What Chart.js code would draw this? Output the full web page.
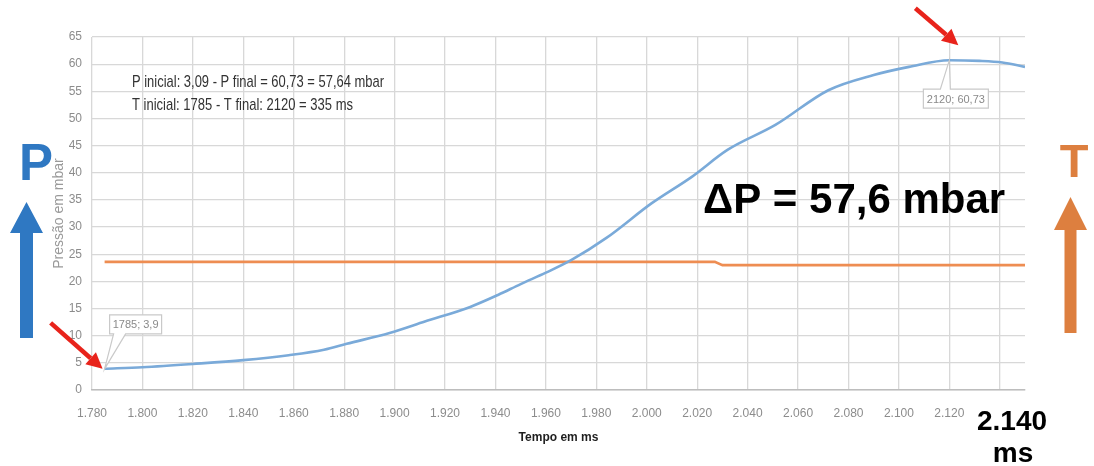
<!DOCTYPE html>
<html>
<head>
<meta charset="utf-8">
<script src="https://cdn.jsdelivr.net/npm/chart.js@4.4.1/dist/chart.umd.min.js"></script>
<style>
  html, body { margin: 0; padding: 0; background: #ffffff; }
  #wrap { width: 1094px; height: 466px; position: relative; }
</style>
</head>
<body>
<div id="wrap"><canvas id="grafico" width="1094" height="466"></canvas></div>
<script>
// Pressure curve (mbar) against time (ms)
const tempoPressao = [1785, 1800, 1820, 1840, 1858, 1872, 1881, 1898, 1912, 1930, 1941, 1950, 1960, 1970, 1984, 2002, 2018, 2032, 2051, 2072, 2090, 2104, 2120, 2132, 2141, 2150];
const pressao      = [3.9, 4.2, 4.8, 5.5, 6.4, 7.4, 8.5, 10.5, 12.6, 15.3, 17.5, 19.5, 21.6, 23.9, 28.0, 34.4, 39.3, 44.2, 48.8, 55.2, 58.0, 59.5, 60.73, 60.6, 60.3, 59.5];

// Temperature trace on the same axes
const tempoTemperatura = [1785, 2027, 2030, 2150];
const temperatura      = [23.6, 23.6, 23.0, 23.0];

// Axis ranges and ticks
const eixoX = { min: 1780, max: 2150, passo: 20 };
const eixoY = { min: 0, max: 65, passo: 5 };

// Labelled points
const pontoInicial = { t: 1785, p: 3.9 };
const pontoFinal   = { t: 2120, p: 60.73 };

// Text
const resumo = [
  'P inicial: 3,09 - P final = 60,73 = 57,64 mbar',
  'T inicial: 1785 - T final: 2120 = 335 ms'
];
const deltaTexto = '\u0394P = 57,6 mbar';
const tempoFinalTexto = ['2.140', 'ms'];
const tituloX = 'Tempo em ms';
const tituloY = 'Press\u00e3o em mbar';

const FONTE = '"Liberation Sans", Arial, sans-serif';

function fmtMilhar(v) {
  return Math.round(v).toString().replace(/\B(?=(\d{3})+(?!\d))/g, '.');
}
function fmtDecimal(v) {
  return String(v).replace('.', ',');
}

function seta(ctx, x0, y0, x1, y1, cor, largura, cab, abertura) {
  const ang = Math.atan2(y1 - y0, x1 - x0);
  const bx = x1 - Math.cos(ang) * cab, by = y1 - Math.sin(ang) * cab;
  ctx.save();
  ctx.strokeStyle = cor; ctx.fillStyle = cor; ctx.lineWidth = largura; ctx.lineCap = 'butt';
  ctx.beginPath(); ctx.moveTo(x0, y0); ctx.lineTo(bx, by); ctx.stroke();
  ctx.beginPath();
  ctx.moveTo(x1, y1);
  ctx.lineTo(bx + Math.sin(ang) * abertura, by - Math.cos(ang) * abertura);
  ctx.lineTo(bx - Math.sin(ang) * abertura, by + Math.cos(ang) * abertura);
  ctx.closePath(); ctx.fill();
  ctx.restore();
}

function setaBloco(ctx, cx, topo, baseCab, fundo, meiaHaste, meiaCab, cor) {
  ctx.save();
  ctx.fillStyle = cor;
  ctx.beginPath();
  ctx.moveTo(cx, topo);
  ctx.lineTo(cx + meiaCab, baseCab);
  ctx.lineTo(cx + meiaHaste, baseCab);
  ctx.lineTo(cx + meiaHaste, fundo);
  ctx.lineTo(cx - meiaHaste, fundo);
  ctx.lineTo(cx - meiaHaste, baseCab);
  ctx.lineTo(cx - meiaCab, baseCab);
  ctx.closePath();
  ctx.fill();
  ctx.restore();
}

// Callout box with a wedge pointing to a data point
function balao(ctx, texto, px, py, bx, by, bw, bh, lado, w0, w1) {
  ctx.save();
  ctx.beginPath();
  if (lado === 'baixo') {
    ctx.moveTo(bx, by); ctx.lineTo(bx + bw, by); ctx.lineTo(bx + bw, by + bh);
    ctx.lineTo(bx + w1, by + bh); ctx.lineTo(px, py); ctx.lineTo(bx + w0, by + bh);
    ctx.lineTo(bx, by + bh); ctx.closePath();
  } else {
    ctx.moveTo(bx, by); ctx.lineTo(bx + w0, by); ctx.lineTo(px, py); ctx.lineTo(bx + w1, by);
    ctx.lineTo(bx + bw, by); ctx.lineTo(bx + bw, by + bh); ctx.lineTo(bx, by + bh); ctx.closePath();
  }
  ctx.fillStyle = '#ffffff'; ctx.fill();
  ctx.strokeStyle = '#c9c9c9'; ctx.lineWidth = 1.2; ctx.stroke();
  ctx.fillStyle = '#8a8a8a';
  ctx.font = '11px ' + FONTE;
  ctx.textAlign = 'center'; ctx.textBaseline = 'middle';
  ctx.fillText(texto, bx + bw / 2, by + bh / 2 + 1, bw - 6);
  ctx.restore();
}

const anotacoes = {
  id: 'anotacoes',
  afterDatasetsDraw(chart) {
    const ctx = chart.ctx;
    const sx = chart.scales.x, sy = chart.scales.y;

    // summary text box
    ctx.save();
    ctx.fillStyle = '#333333';
    ctx.font = '17px ' + FONTE;
    ctx.textAlign = 'left'; ctx.textBaseline = 'alphabetic';
    ctx.fillText(resumo[0], 132, 87, 252);
    ctx.fillText(resumo[1], 132, 110, 221);
    ctx.restore();

    // value callouts
    const p1x = sx.getPixelForValue(pontoInicial.t), p1y = sy.getPixelForValue(pontoInicial.p);
    balao(ctx, String(pontoInicial.t) + '; ' + fmtDecimal(pontoInicial.p),
          p1x, p1y, p1x + 5, p1y - 54, 52, 19, 'baixo', 4, 16);
    const p2x = sx.getPixelForValue(pontoFinal.t), p2y = sy.getPixelForValue(pontoFinal.p);
    balao(ctx, String(pontoFinal.t) + '; ' + fmtDecimal(pontoFinal.p),
          p2x, p2y, p2x - 26, p2y + 29, 65, 19, 'cima', 17, 27);

    // red pointer arrows
    seta(ctx, p1x - 54, p1y - 46, p1x - 2, p1y, '#e8231b', 4.5, 16, 8);
    seta(ctx, p2x - 34, p2y - 52, p2x + 9, p2y - 15, '#e8231b', 4.5, 16, 8);

    // delta text
    ctx.save();
    ctx.fillStyle = '#000000';
    ctx.font = 'bold 42px ' + FONTE;
    ctx.textAlign = 'left'; ctx.textBaseline = 'alphabetic';
    ctx.fillText(deltaTexto, 703, 213);

    // final time label
    ctx.font = 'bold 28px ' + FONTE;
    ctx.textAlign = 'center';
    ctx.fillText(tempoFinalTexto[0], 1012, 430);
    ctx.fillText(tempoFinalTexto[1], 1013, 462);

    // P marker and arrow
    ctx.fillStyle = '#2f78c2';
    ctx.font = 'bold 51px ' + FONTE;
    ctx.textAlign = 'center';
    ctx.fillText('P', 36, 180);
    setaBloco(ctx, 26.5, 202, 233, 338, 6.5, 16.5, '#2f78c2');

    // T marker and arrow
    ctx.fillStyle = '#dd7f3f';
    ctx.font = 'bold 47px ' + FONTE;
    ctx.fillText('T', 1074, 177);
    setaBloco(ctx, 1070.5, 197, 230, 333, 6, 16.5, '#dd7f3f');
    ctx.restore();
  }
};

new Chart(document.getElementById('grafico'), {
  type: 'line',
  data: {
    datasets: [
      {
        label: 'Pressão',
        data: tempoPressao.map((t, i) => ({ x: t, y: pressao[i] })),
        borderColor: '#7aaad9',
        borderWidth: 2.6,
        pointRadius: 0,
        cubicInterpolationMode: 'monotone',
        fill: false
      },
      {
        label: 'Temperatura',
        data: tempoTemperatura.map((t, i) => ({ x: t, y: temperatura[i] })),
        borderColor: '#ee8d52',
        borderWidth: 2.6,
        pointRadius: 0,
        tension: 0,
        fill: false
      }
    ]
  },
  options: {
    responsive: false,
    animation: false,
    devicePixelRatio: 1,
    layout: { padding: { left: 0, right: 69, top: 37, bottom: 0 } },
    plugins: { legend: { display: false }, tooltip: { enabled: false } },
    scales: {
      x: {
        type: 'linear',
        min: eixoX.min, max: eixoX.max,
        afterFit(s) { s.height = 76; },
        grid: { color: '#d8d8d8', lineWidth: 1.3, drawTicks: false },
        border: { display: true, color: '#bdbdbd', width: 1.5 },
        ticks: {
          stepSize: eixoX.passo,
          includeBounds: false,
          autoSkip: false,
          maxRotation: 0,
          padding: 16,
          color: '#8c8c8c',
          font: { family: FONTE, size: 12 },
          callback: (v) => (v >= 2140 ? '' : fmtMilhar(v))
        },
        title: {
          display: true, text: tituloX, color: '#1e1e1e',
          font: { family: FONTE, size: 12, weight: 'bold' },
          padding: { top: 0, bottom: 21 }
        }
      },
      y: {
        min: eixoY.min, max: eixoY.max,
        afterFit(s) { s.width = 92; },
        grid: { color: '#d8d8d8', lineWidth: 1.3, drawTicks: false },
        border: { display: false },
        ticks: {
          stepSize: eixoY.passo,
          padding: 10,
          color: '#8c8c8c',
          font: { family: FONTE, size: 12 }
        },
        title: {
          display: true, text: tituloY, color: '#9a9a9a',
          font: { family: FONTE, size: 14 },
          padding: { top: 51, bottom: 0 }
        }
      }
    }
  },
  plugins: [anotacoes]
});
</script>
</body>
</html>
